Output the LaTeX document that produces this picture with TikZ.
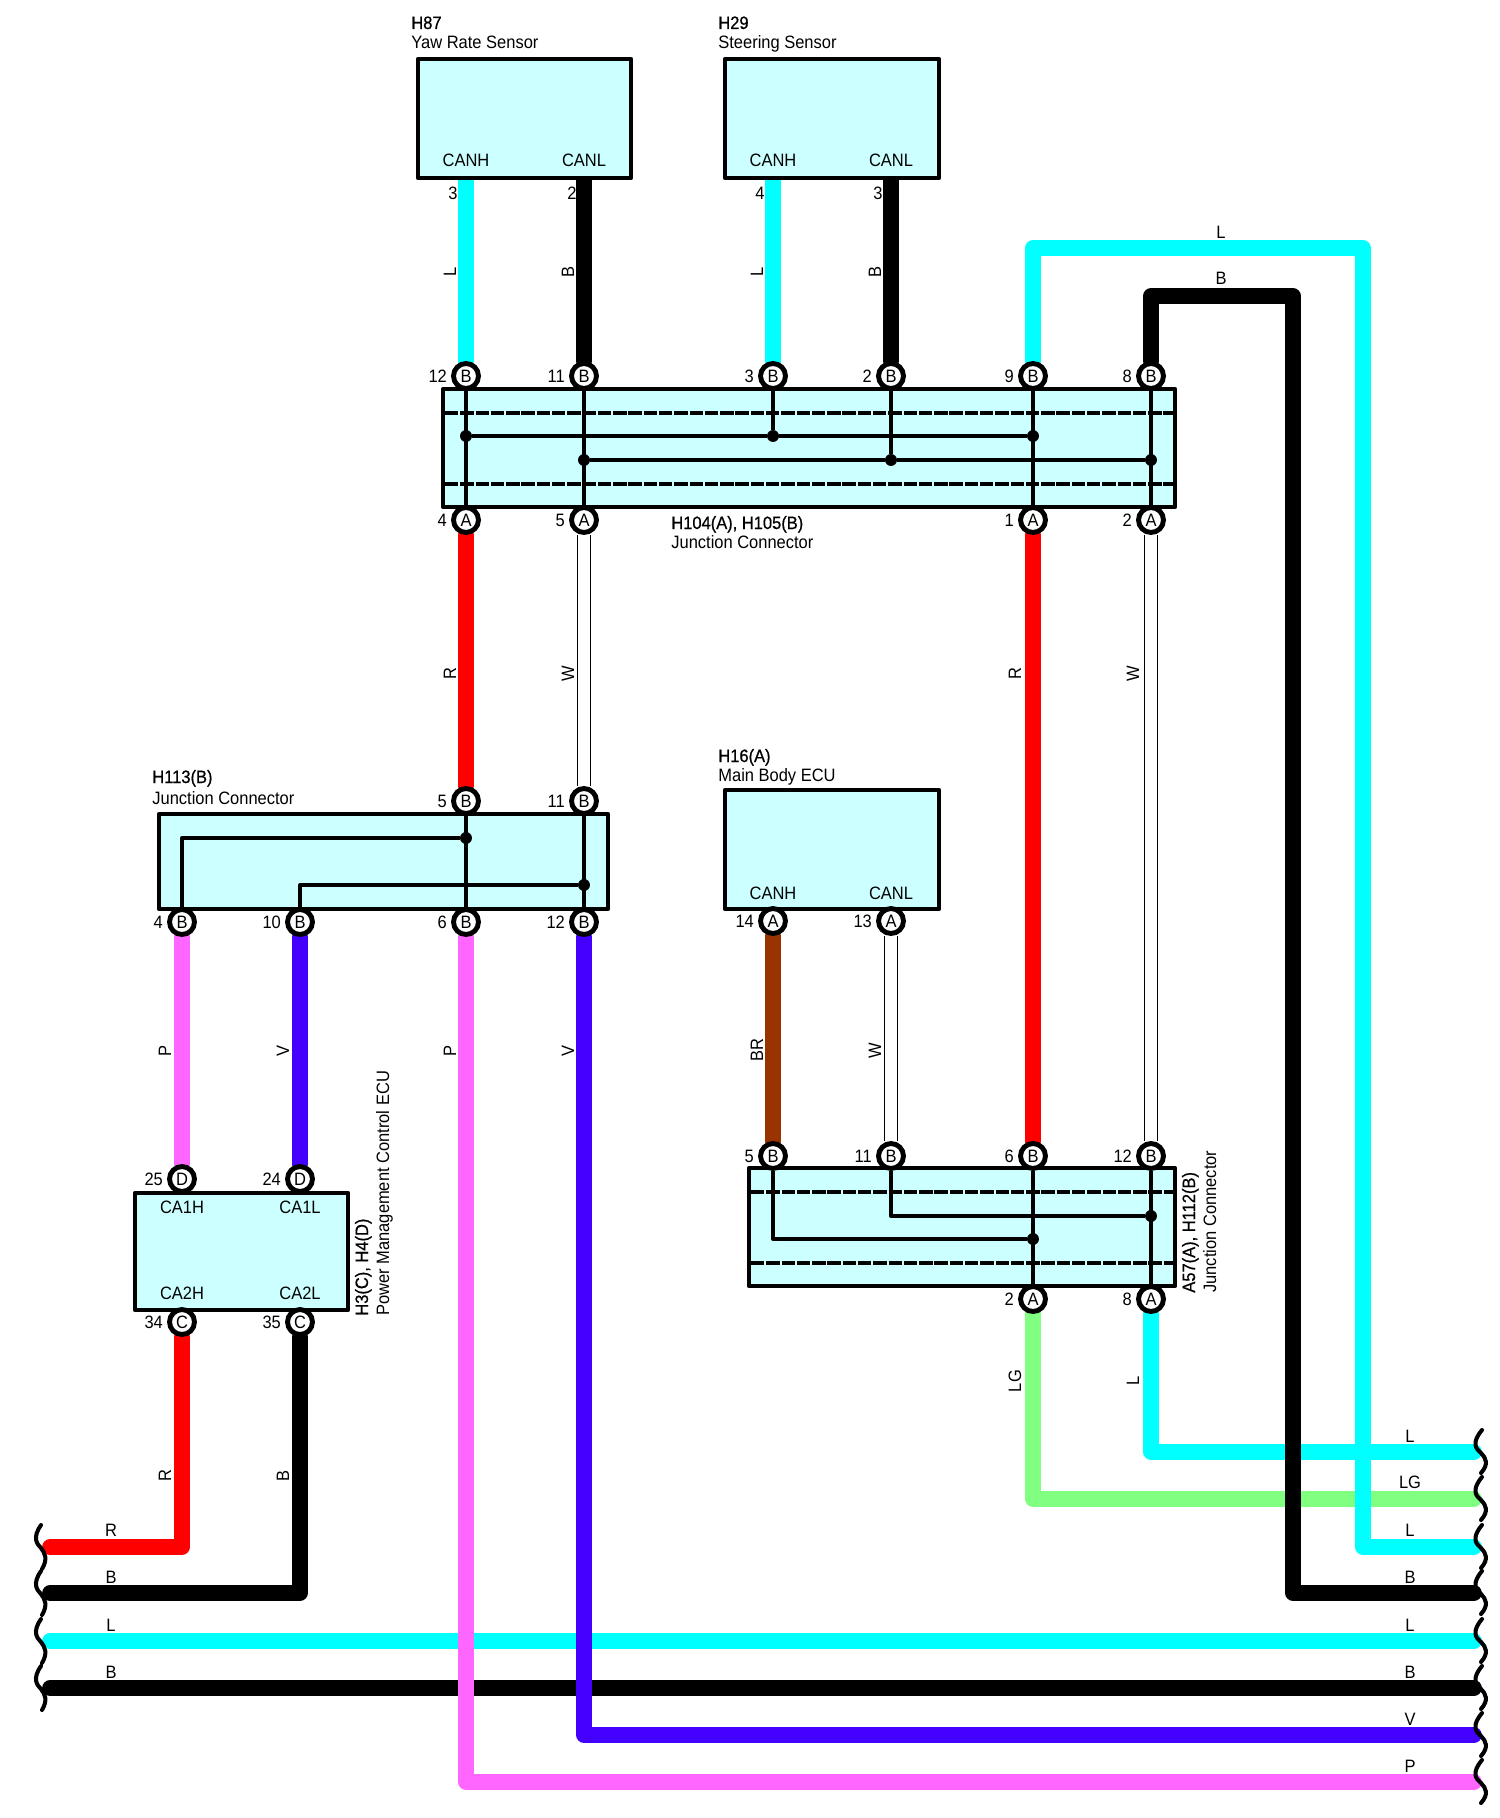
\documentclass[tikz,border=0pt]{standalone}
\usepackage{fontspec}
\setmainfont[FakeStretch=0.92]{Liberation Sans}
\newfontfamily\headfont[FakeStretch=0.92,FakeBold=0.7]{Liberation Sans}
\usetikzlibrary{positioning}
\pgfdeclarelayer{wires}
\pgfsetlayers{wires,main}
\definecolor{wireL}{HTML}{00FFFF}
\definecolor{wireR}{HTML}{FF0000}
\definecolor{wireG}{HTML}{80FF80}
\definecolor{wireP}{HTML}{FF66FF}
\definecolor{wireV}{HTML}{4400FF}
\definecolor{wireN}{HTML}{993300}
\definecolor{ecufill}{HTML}{CCFFFF}

\begin{document}
\begin{tikzpicture}[x=0.02cm,y=-0.02cm,font=\fontsize{10.2}{12}\selectfont]
    \tikzstyle{ecu}=[draw=black, fill=ecufill, line width=2.6pt, line join=round, inner sep=0pt]
    \tikzstyle{pinnode}=[circle, draw=black, fill=white, line width=2.8pt, minimum size=14.2pt, inner sep=0pt]
    \tikzstyle{pnum}=[inner sep=0pt]
    \tikzstyle{jdot}=[circle, fill=black, minimum size=6.8pt, inner sep=0pt]
    \tikzstyle{wire}=[line width=8.9pt, line cap=round, line join=round]
    \tikzstyle{wwire}=[draw=black, line width=0.6pt, double=white, double distance=6.4pt]
    \tikzstyle{link}=[draw=black, line width=1.9pt, line join=round]
    \tikzstyle{sepline}=[draw=black, line width=2pt, dash pattern=on 7.6pt off 1.1pt]
    \tikzstyle{squig}=[draw=black, line width=2.3pt, line cap=round]
    \tikzstyle{annot}=[inner sep=0pt, anchor=base west]
    \tikzstyle{rannot}=[annot, rotate=90]
    \tikzstyle{wlabel}=[inner sep=0pt]
    \tikzstyle{rlabel}=[wlabel, rotate=90]

    \useasboundingbox (0,0) rectangle (1500,1818);

    % boxes
    \node[ecu, minimum width=4.26cm, minimum height=2.38cm] (H87) at (524.5,118.5) {};
    \node[ecu, minimum width=4.28cm, minimum height=2.38cm] (H29) at (832,118.5) {};
    \node[ecu, minimum width=14.64cm, minimum height=2.36cm] (H104) at (809,448) {};
    \node[ecu, minimum width=8.98cm, minimum height=1.9cm] (H113) at (383.5,861.5) {};
    \node[ecu, minimum width=4.28cm, minimum height=2.38cm] (H16) at (832,849.5) {};
    \node[ecu, minimum width=4.26cm, minimum height=2.34cm] (H3) at (241.5,1251.5) {};
    \node[ecu, minimum width=8.52cm, minimum height=2.36cm] (A57) at (962,1227) {};

    \foreach \y in {413,484}{
        \draw[sepline] (445,\y) -- (1173,\y);
    }
    \foreach \y in {1192,1263}{
        \draw[sepline] (751,\y) -- (1173,\y);
    }

    % connector pins
    \foreach \g/\x/\y/\l/\n in {JT/466/376/B/12, JT/584/376/B/11, JT/773/376/B/3, JT/891/376/B/2, JT/1033/376/B/9, JT/1151/376/B/8,
        JB/466/520/A/4, JB/584/520/A/5, JB/1033/520/A/1, JB/1151/520/A/2,
        KT/466/801/B/5, KT/584/801/B/11,
        KB/182/922/B/4, KB/300/922/B/10, KB/466/922/B/6, KB/584/922/B/12,
        MB/773/921/A/14, MB/891/921/A/13,
        NT/773/1156/B/5, NT/891/1156/B/11, NT/1033/1156/B/6, NT/1151/1156/B/12,
        NB/1033/1299/A/2, NB/1151/1299/A/8,
        PT/182/1179/D/25, PT/300/1179/D/24, PB/182/1322/C/34, PB/300/1322/C/35}{
        \node[pinnode] (\g-\n) at (\x,\y) {\l};
        \node[pnum, left=2.2pt of \g-\n] (\g-\n-no) {\n};
    }

    % splices
    \foreach \s/\x/\y in {a/466/436, b/773/436, c/1033/436, d/584/460, e/891/460, f/1151/460,
        g/466/838, h/584/885, i/1033/1239, j/1151/1216}{
        \node[jdot] (S-\s) at (\x,\y) {};
    }
    \coordinate (K-1) at (182,838);
    \coordinate (K-2) at (300,885);
    \coordinate (N-1) at (773,1239);
    \coordinate (N-2) at (891,1216);

    \draw[link] (JT-12) -- (JB-4);
    \draw[link] (JT-11) -- (JB-5);
    \draw[link] (JT-9) -- (JB-1);
    \draw[link] (JT-8) -- (JB-2);
    \draw[link] (JT-3) -- (S-b);
    \draw[link] (JT-2) -- (S-e);
    \draw[link] (S-a) -- (S-b) -- (S-c);
    \draw[link] (S-d) -- (S-e) -- (S-f);
    \draw[link] (KT-5) -- (KB-6);
    \draw[link] (KT-11) -- (KB-12);
    \draw[link] (KB-4) -- (K-1) -- (S-g);
    \draw[link] (KB-10) -- (K-2) -- (S-h);
    \draw[link] (NT-6) -- (NB-2);
    \draw[link] (NT-12) -- (NB-8);
    \draw[link] (NT-5) -- (N-1) -- (S-i);
    \draw[link] (NT-11) -- (N-2) -- (S-j);

    % wire ends and corners
    \coordinate (H87-3) at (466,178);
    \coordinate (H87-2) at (584,178);
    \coordinate (H29-4) at (773,178);
    \coordinate (H29-3) at (891,178);
    \coordinate (C-1) at (1033,248);
    \coordinate (C-2) at (1363,248);
    \coordinate (C-3) at (1363,1547);
    \coordinate (C-4) at (1151,296);
    \coordinate (C-5) at (1293,296);
    \coordinate (C-6) at (1293,1593);
    \coordinate (C-7) at (1151,1452);
    \coordinate (C-8) at (1033,1499);
    \coordinate (C-9) at (466,1782);
    \coordinate (C-10) at (584,1735);
    \coordinate (C-11) at (182,1547);
    \coordinate (C-12) at (300,1593);
    \foreach \n/\y in {1/1452,2/1499,3/1547,4/1593,5/1641,6/1688,7/1735,8/1782}{
        \coordinate (E-\n) at (1474,\y);
    }
    \foreach \n/\y in {3/1547,4/1593,5/1641,6/1688}{
        \coordinate (W-\n) at (50,\y);
    }

    \begin{pgfonlayer}{wires}
        \draw[wire,draw=wireL] (NB-8) -- (C-7) -- (E-1);
        \draw[wire,draw=wireG] (NB-2) -- (C-8) -- (E-2);
        \draw[wire,draw=wireL] (W-5) -- (E-5);
        \draw[wire,draw=black] (W-6) -- (E-6);
        \foreach \a/\b/\c in {H87-3/JT-12/wireL, H87-2/JT-11/black, H29-4/JT-3/wireL, H29-3/JT-2/black,
            JB-4/KT-5/wireR, JB-1/NT-6/wireR, KB-4/PT-25/wireP, KB-10/PT-24/wireV, MB-14/NT-5/wireN}{
            \draw[wire,draw=\c] (\a) -- (\b);
        }
        \foreach \a/\b in {JB-5/KT-11, JB-2/NT-12, MB-13/NT-11}{
            \draw[wwire] (\a) -- (\b);
        }
        \draw[wire,draw=wireL] (JT-9) -- (C-1) -- (C-2) -- (C-3) -- (E-3);
        \draw[wire,draw=black] (JT-8) -- (C-4) -- (C-5) -- (C-6) -- (E-4);
        \draw[wire,draw=wireP] (KB-6) -- (C-9) -- (E-8);
        \draw[wire,draw=wireV] (KB-12) -- (C-10) -- (E-7);
        \draw[wire,draw=wireR] (PB-34) -- (C-11) -- (W-3);
        \draw[wire,draw=black] (PB-35) -- (C-12) -- (W-4);
    \end{pgfonlayer}

    % wire breaks
    \foreach \y in {1452,1499,1547,1593,1641,1688,1735,1782}{
        \draw[squig] (1482,\y-22) .. controls (1471,\y-9) and (1476,\y-3) .. (1481,\y+1) .. controls (1486,\y+6) and (1489,\y+12) .. (1481,\y+21);
    }
    \foreach \y in {1547,1593,1641,1688}{
        \draw[squig] (41,\y-22) .. controls (32,\y-9) and (37,\y-3) .. (41,\y+1) .. controls (45,\y+6) and (48,\y+12) .. (42,\y+22);
    }

    % box texts
    \foreach \t/\x/\y [count=\i] in {CANH/466/160, CANL/584/160, CANH/773/160, CANL/891/160, CANH/773/893, CANL/891/893,
        CA1H/182/1207, CA1L/300/1207, CA2H/182/1293, CA2L/300/1293,
        3/453/193, 2/572/193, 4/760/193, 3/878/193}{
        \node[wlabel] (T-\i) at (\x,\y) {\t};
    }
    \node[annot] (H87-a) at (411,29) {\headfont H87};
    \node[annot] (H87-b) at (411,49) {Yaw Rate Sensor};
    \node[annot] (H29-a) at (718,29) {\headfont H29};
    \node[annot] (H29-b) at (718,49) {Steering Sensor};
    \node[annot] (H104-a) at (671,529) {\headfont H104(A), H105(B)};
    \node[annot] (H104-b) at (671,548) {Junction Connector};
    \node[annot] (H113-a) at (152,783) {\headfont H113(B)};
    \node[annot] (H113-b) at (152,804) {Junction Connector};
    \node[annot] (H16-a) at (718,762) {\headfont H16(A)};
    \node[annot] (H16-b) at (718,781) {Main Body ECU};
    \node[rannot] (H3-a) at (368,1316) {\headfont H3(C), H4(D)};
    \node[rannot] (H3-b) at (389,1316) {Power Management Control ECU};
    \node[rannot] (A57-a) at (1195,1293) {\headfont A57(A), H112(B)};
    \node[rannot] (A57-b) at (1216,1293) {Junction Connector};

    % wire colour letters
    \foreach \t/\x/\y [count=\i] in {L/450/272, B/568/272, L/757/272, B/875/272,
        R/450/674, W/568/674, R/1015/674, W/1133/674,
        P/165/1051, V/283/1051, P/450/1051, V/568/1051, BR/757/1050, W/875/1051,
        LG/1015/1381, L/1133/1381, R/165/1476, B/283/1476}{
        \node[rlabel] (V-\i) at (\x,\y) {\t};
    }
    \foreach \t/\x/\y [count=\i] in {L/1221/232, B/1221/278,
        L/1410/1436, LG/1410/1482, L/1410/1530, B/1410/1577, L/1410/1625, B/1410/1672, V/1410/1719, P/1410/1766,
        R/111/1530, B/111/1577, L/111/1625, B/111/1672}{
        \node[wlabel] (H-\i) at (\x,\y) {\t};
    }
\end{tikzpicture}
\end{document}
